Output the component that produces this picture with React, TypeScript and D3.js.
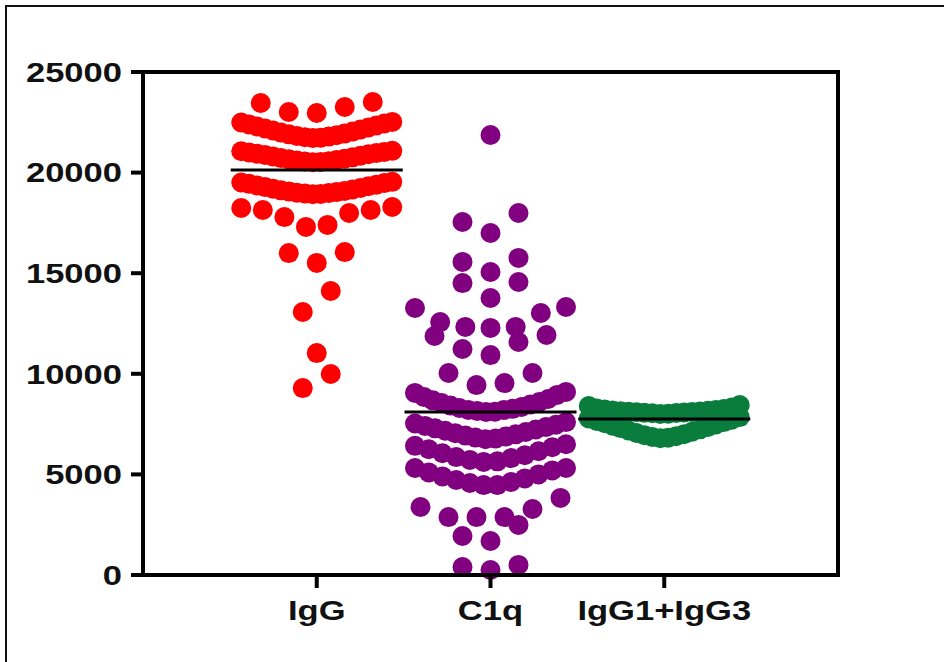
import React from "react";
import * as d3 from "d3";

const categories = ["IgG", "C1q", "IgG1+IgG3"];
const colors = ["#FF0000", "#800080", "#0A7D3C"];

const igG = [
  9290, 9990, 11030, 13070, 14115, 15510, 16000, 16050,
  17300, 17400, 17790, 17990, 18140, 18140, 18240, 18290,
  18930, 18940, 18960, 18980, 19000, 19030, 19060, 19090, 19120, 19160,
  19200, 19240, 19280, 19320, 19360, 19400, 19440, 19480, 19510, 19540,
  20520, 20530, 20550, 20570, 20600, 20630, 20660, 20690, 20720, 20760,
  20800, 20840, 20880, 20910, 20940, 20970, 21000, 21030, 21060, 21080,
  21720, 21730, 21760, 21790, 21820, 21860, 21900, 21940, 21990, 22040,
  22090, 22140, 22190, 22240, 22290, 22340, 22390, 22440, 22490, 22520,
  22960, 23010, 23260, 23460, 23510,
];

const c1q = [
  250, 400, 500,
  1690, 1940, 2490,
  2880, 2880, 2880, 3280, 3380, 3830,
  4470, 4470, 4570, 4620, 4720, 4800, 4900, 5000, 5100, 5200, 5320, 5320,
  5620, 5650, 5720, 5810, 5860, 5950, 6050, 6150, 6250, 6350, 6420, 6500,
  6750, 6780, 6830, 6880, 6930, 6990, 7050, 7110, 7170, 7230, 7290, 7350, 7410, 7470, 7530, 7600,
  8100, 8120, 8150, 8200, 8200, 8260, 8300, 8350, 8420, 8480, 8550, 8600, 8680, 8750, 8850, 8950, 9050, 9100,
  9440, 9540, 10040, 10040,
  10930, 11230, 11580, 11880, 11930,
  12280, 12330, 12330, 12570, 13020, 13270, 13320,
  13770, 14510, 14560,
  15060, 15560, 15760,
  17000, 17545, 17990,
  21870,
];

const igG13 = [
  6800, 6820, 6860, 6900, 6950, 7000, 7060, 7120, 7180, 7240,
  7300, 7360, 7420, 7480, 7540, 7600, 7660, 7720, 7780, 7850,
  8000, 8020, 8040, 8050, 8060, 8080, 8090, 8100, 8110, 8130,
  8140, 8160, 8180, 8200, 8220, 8250, 8280, 8320, 8400, 8450,
];

const seriesValues = [igG, c1q, igG13];
const groupMeans = [20130, 8100, 7750];
const yTicks = [0, 5000, 10000, 15000, 20000, 25000];

const W = 944;
const H = 662;
const left = 143;
const right = 838;
const top = 72;
const bottom = 575;
const R = 10;
const rowHeightPx = 21.5;
const maxSpan = 151;
const maxStep = 28;
const meanHalf = 86;

const y = d3.scaleLinear().domain([0, 25000]).range([bottom, top]);
const x = d3.scalePoint<string>().domain(categories).range([left, right]).padding(1);

function swarm(values: number[]) {
  const sorted = [...values].sort((a, b) => a - b);
  const rows: number[][] = [];
  let cur: number[] = [];
  let start = 0;
  for (const v of sorted) {
    if (cur.length && y(start) - y(v) > rowHeightPx) {
      rows.push(cur);
      cur = [];
    }
    if (!cur.length) start = v;
    cur.push(v);
  }
  if (cur.length) rows.push(cur);
  const pts: { v: number; dx: number }[] = [];
  for (const row of rows) {
    const n = row.length;
    const s = n > 1 ? Math.min(maxStep, maxSpan / (n - 1)) : 0;
    row.forEach((v, k) => {
      let dx: number;
      if (n % 2 === 1) {
        dx = k === 0 ? 0 : (k % 2 === 1 ? -1 : 1) * Math.ceil(k / 2) * s;
      } else {
        dx = (k % 2 === 0 ? -1 : 1) * (Math.floor(k / 2) + 0.5) * s;
      }
      pts.push({ v, dx });
    });
  }
  return pts;
}

const font = "'Liberation Sans', Arial, sans-serif";
const sx = 1.28;

export default function App() {
  return (
    <svg
      width={W}
      height={H}
      style={{ position: "absolute", left: 0, top: 0, background: "#fff" }}
    >
      <rect x={0} y={0} width={W} height={H} fill="#fff" />
      <rect x={6} y={6} width={1200} height={1200} fill="none" stroke="#111" strokeWidth={2} />

      {categories.map((c, gi) => (
        <g key={c}>
          {swarm(seriesValues[gi]).map((p, i) => (
            <circle key={i} cx={(x(c) as number) + p.dx} cy={y(p.v)} r={R} fill={colors[gi]} />
          ))}
        </g>
      ))}

      {categories.map((c, gi) => (
        <line
          key={c}
          x1={(x(c) as number) - meanHalf}
          x2={(x(c) as number) + meanHalf}
          y1={y(groupMeans[gi])}
          y2={y(groupMeans[gi])}
          stroke="#000"
          strokeWidth={3}
        />
      ))}

      <rect x={left} y={top} width={right - left} height={bottom - top} fill="none" stroke="#000" strokeWidth={4} />

      {yTicks.map((t) => (
        <g key={t}>
          <line x1={left - 12} x2={left} y1={y(t)} y2={y(t)} stroke="#000" strokeWidth={4} />
          <g transform={`translate(122,${y(t)}) scale(${sx},1)`}>
            <text textAnchor="end" dy="0.36em" fontFamily={font} fontWeight="bold" fontSize={27} fill="#111">
              {t}
            </text>
          </g>
        </g>
      ))}

      {categories.map((c) => (
        <g key={c}>
          <line x1={x(c)} x2={x(c)} y1={bottom} y2={bottom + 13} stroke="#000" strokeWidth={4} />
          <g transform={`translate(${x(c)},620) scale(${sx},1)`}>
            <text textAnchor="middle" fontFamily={font} fontWeight="bold" fontSize={27} fill="#111">
              {c}
            </text>
          </g>
        </g>
      ))}
    </svg>
  );
}
